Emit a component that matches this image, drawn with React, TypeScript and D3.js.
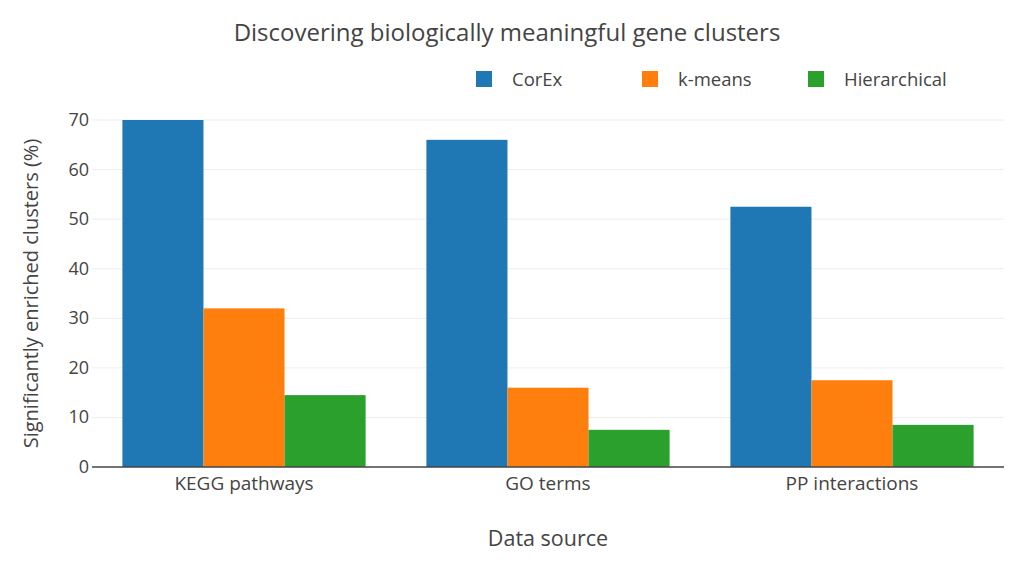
import React from 'react';
import * as d3 from 'd3';

const categories = ['KEGG pathways', 'GO terms', 'PP interactions'];
const seriesNames = ['CorEx', 'k-means', 'Hierarchical'];
const corexValues = [70, 66, 52.5];
const kmeansValues = [32, 16, 17.5];
const hierValues = [14.5, 7.5, 8.5];
const yTicks = [0, 10, 20, 30, 40, 50, 60, 70];
const colors = ['#1f77b4', '#ff7f0e', '#2ca02c'];

const W = 1024;
const H = 565;
const margin = { top: 120, right: 20, bottom: 98, left: 92 };
const FONT = '"Open Sans", "Noto Sans", sans-serif';
const TEXT = '#444';

const App: React.FC = () => {
  const series = [corexValues, kmeansValues, hierValues];
  const x = d3.scaleBand().domain(categories).range([margin.left, W - margin.right]);
  // bargap 0.2 => bars fill the middle 80% of each category
  const inner = d3.scaleBand().domain(seriesNames).range([x.bandwidth() * 0.1, x.bandwidth() * 0.9]);
  const y = d3.scaleLinear().domain([0, 70]).range([H - margin.bottom, margin.top]);

  const legendX = [476, 642, 808];

  return (
    <svg width={W} height={H} style={{ position: 'absolute', left: 0, top: 0, background: '#fff' }} fontFamily={FONT}>
      <text x={507} y={41} textAnchor="middle" fontSize={24} fill={TEXT}>
        Discovering biologically meaningful gene clusters
      </text>

      {/* legend */}
      {seriesNames.map((name, i) => (
        <g key={name}>
          <rect x={legendX[i]} y={71} width={16} height={16} fill={colors[i]} />
          <text x={legendX[i] + 36} y={86} fontSize={18.5} fill={TEXT}>{name}</text>
        </g>
      ))}

      {/* gridlines */}
      {yTicks.filter(t => t > 0).map(t => (
        <line key={t} x1={margin.left} x2={W - margin.right} y1={y(t)} y2={y(t)} stroke="#eee" strokeWidth={1} />
      ))}

      {/* bars */}
      {categories.map((c, ci) => (
        <g key={c}>
          {series.map((vals, si) => (
            <rect
              key={si}
              x={x(c)! + inner(seriesNames[si])!}
              y={y(vals[ci])}
              width={inner.bandwidth()}
              height={y(0) - y(vals[ci])}
              fill={colors[si]}
            />
          ))}
        </g>
      ))}

      {/* zero line */}
      <line x1={margin.left} x2={W - margin.right} y1={y(0)} y2={y(0)} stroke={TEXT} strokeWidth={1.5} />

      {/* y ticks */}
      {yTicks.map(t => (
        <text key={t} x={margin.left - 3} y={y(t) + 6} textAnchor="end" fontSize={18} fill={TEXT}>{t}</text>
      ))}

      {/* x ticks */}
      {categories.map(c => (
        <text key={c} x={x(c)! + x.bandwidth() / 2} y={490} textAnchor="middle" fontSize={19} fill={TEXT}>{c}</text>
      ))}

      <text x={548} y={546} textAnchor="middle" fontSize={21.5} fill={TEXT}>Data source</text>
      <text
        transform={`translate(38,${(margin.top + H - margin.bottom) / 2}) rotate(-90)`}
        textAnchor="middle"
        fontSize={20}
        fill={TEXT}
      >
        Significantly enriched clusters (%)
      </text>
    </svg>
  );
};

export default App;
